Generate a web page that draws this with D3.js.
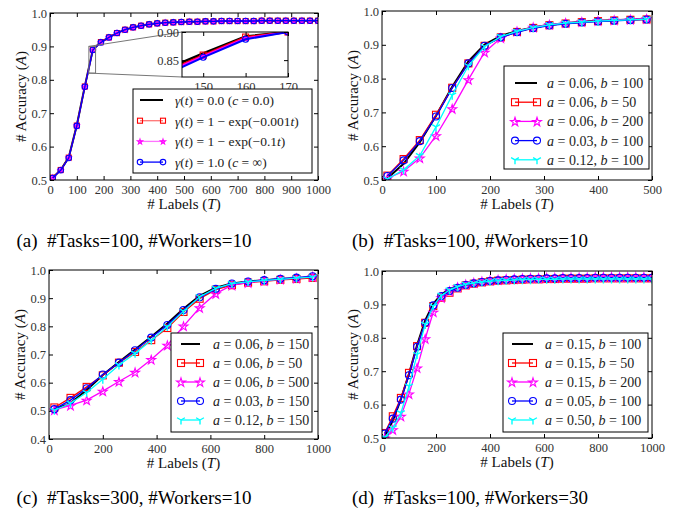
<!DOCTYPE html>
<html>
<head>
<meta charset="utf-8">
<script src="https://cdn.jsdelivr.net/npm/d3@7/dist/d3.min.js"></script>
<style>
  body { margin: 0; background: #fff; }
  svg text { font-family: "Liberation Serif", "Times New Roman", Times, serif !important; }
</style>
</head>
<body>
<svg id="fig" width="682" height="515" font-family="Liberation Serif"></svg>
<script>
// ---- data ----
const labelsA = [10, 40, 70, 100, 130, 160, 190, 220, 250, 280, 310, 340, 370, 400, 430, 460, 490,
    520, 550, 580, 610, 640, 670, 700, 730, 760, 790, 820, 850, 880, 910, 940, 970, 1000];
const accA_zero = [0.507, 0.530, 0.568, 0.664, 0.781, 0.891, 0.913, 0.927, 0.940, 0.950, 0.957, 0.962, 0.966, 0.969, 0.971, 0.972, 0.973,
    0.974, 0.974, 0.975, 0.975, 0.976, 0.976, 0.976, 0.976, 0.977, 0.977, 0.977, 0.977, 0.977, 0.977, 0.977, 0.977, 0.977];
const accA_exp001 = [0.507, 0.530, 0.567, 0.663, 0.780, 0.890, 0.913, 0.927, 0.940, 0.950, 0.957, 0.962, 0.966, 0.969, 0.971, 0.972, 0.973,
    0.974, 0.974, 0.975, 0.975, 0.976, 0.976, 0.976, 0.976, 0.976, 0.977, 0.977, 0.977, 0.977, 0.977, 0.977, 0.977, 0.977];
const accA_exp01 = [0.507, 0.530, 0.567, 0.663, 0.780, 0.890, 0.913, 0.927, 0.940, 0.950, 0.957, 0.962, 0.966, 0.969, 0.971, 0.972, 0.973,
    0.974, 0.974, 0.975, 0.975, 0.976, 0.976, 0.976, 0.976, 0.976, 0.977, 0.977, 0.977, 0.977, 0.977, 0.977, 0.977, 0.977];
const accA_inf = [0.506, 0.529, 0.566, 0.662, 0.779, 0.889, 0.912, 0.927, 0.940, 0.950, 0.957, 0.962, 0.966, 0.969, 0.971, 0.972, 0.973,
    0.974, 0.974, 0.975, 0.975, 0.976, 0.976, 0.976, 0.976, 0.976, 0.977, 0.977, 0.977, 0.977, 0.977, 0.977, 0.977, 0.977];

// zoomed inset of panel (a)
const insetLabels = [140, 150, 160, 170];
const insetZero = [0.830, 0.862, 0.892, 0.900];
const insetExp001 = [0.826, 0.859, 0.891, 0.900];
const insetExp01 = [0.824, 0.857, 0.889, 0.900];
const insetInf = [0.820, 0.855, 0.887, 0.900];

const labelsB = [10, 40, 70, 100, 130, 160, 190, 220, 250, 280, 310, 340, 370, 400, 430, 460, 490];
const accB_a006_b100 = [0.505, 0.548, 0.612, 0.690, 0.776, 0.851, 0.901, 0.926, 0.941, 0.951, 0.959, 0.964, 0.968, 0.971, 0.973, 0.975, 0.976];
const accB_a006_b50 = [0.513, 0.562, 0.618, 0.693, 0.773, 0.845, 0.897, 0.922, 0.938, 0.950, 0.958, 0.963, 0.967, 0.970, 0.972, 0.974, 0.975];
const accB_a006_b200 = [0.505, 0.526, 0.565, 0.631, 0.711, 0.797, 0.878, 0.920, 0.940, 0.952, 0.960, 0.965, 0.968, 0.971, 0.973, 0.975, 0.977];
const accB_a003_b100 = [0.512, 0.558, 0.615, 0.688, 0.772, 0.845, 0.897, 0.922, 0.937, 0.949, 0.957, 0.962, 0.966, 0.969, 0.971, 0.973, 0.975];
const accB_a012_b100 = [0.503, 0.530, 0.572, 0.657, 0.751, 0.838, 0.895, 0.924, 0.940, 0.951, 0.959, 0.964, 0.967, 0.970, 0.972, 0.974, 0.976];

const labelsC = [20, 80, 140, 200, 260, 320, 380, 440, 500, 560, 620, 680, 740, 800, 860, 920, 980];
const accC_a006_b150 = [0.505, 0.527, 0.574, 0.627, 0.673, 0.718, 0.763, 0.810, 0.862, 0.908, 0.937, 0.952, 0.959, 0.964, 0.968, 0.971, 0.974];
const accC_a006_b50 = [0.512, 0.546, 0.585, 0.626, 0.671, 0.709, 0.751, 0.794, 0.851, 0.898, 0.930, 0.946, 0.955, 0.960, 0.965, 0.968, 0.972];
const accC_a006_b500 = [0.503, 0.519, 0.538, 0.570, 0.604, 0.637, 0.682, 0.733, 0.801, 0.866, 0.916, 0.946, 0.955, 0.962, 0.967, 0.971, 0.976];
const accC_a003_b150 = [0.506, 0.538, 0.580, 0.629, 0.671, 0.715, 0.760, 0.805, 0.858, 0.903, 0.933, 0.952, 0.959, 0.964, 0.969, 0.973, 0.978];
const accC_a012_b150 = [0.502, 0.527, 0.565, 0.612, 0.663, 0.704, 0.751, 0.799, 0.854, 0.905, 0.935, 0.952, 0.958, 0.963, 0.967, 0.971, 0.975];

const labelsD = [10, 40, 70, 100, 130, 160, 190, 220, 250, 280, 310, 340, 370, 400, 430, 460, 490,
    520, 550, 580, 610, 640, 670, 700, 730, 760, 790, 820, 850, 880, 910, 940, 970, 1000];
const accD_a015_b100 = [0.505, 0.552, 0.616, 0.692, 0.778, 0.852, 0.902, 0.930, 0.945, 0.955, 0.962, 0.966, 0.969, 0.971, 0.973, 0.974, 0.975,
    0.976, 0.977, 0.977, 0.978, 0.978, 0.978, 0.979, 0.979, 0.979, 0.979, 0.980, 0.980, 0.980, 0.980, 0.980, 0.980, 0.980];
const accD_a015_b50 = [0.515, 0.565, 0.620, 0.695, 0.775, 0.845, 0.895, 0.920, 0.935, 0.948, 0.957, 0.962, 0.966, 0.969, 0.971, 0.972, 0.973,
    0.974, 0.975, 0.975, 0.976, 0.976, 0.977, 0.977, 0.977, 0.977, 0.978, 0.978, 0.978, 0.978, 0.978, 0.978, 0.978, 0.978];
const accD_a015_b200 = [0.500, 0.525, 0.565, 0.632, 0.710, 0.797, 0.877, 0.920, 0.940, 0.952, 0.960, 0.965, 0.969, 0.972, 0.974, 0.976, 0.977,
    0.978, 0.979, 0.979, 0.980, 0.980, 0.981, 0.981, 0.981, 0.981, 0.982, 0.982, 0.982, 0.982, 0.982, 0.982, 0.982, 0.982];
const accD_a005_b100 = [0.513, 0.558, 0.615, 0.688, 0.773, 0.845, 0.897, 0.925, 0.940, 0.950, 0.958, 0.963, 0.967, 0.970, 0.972, 0.974, 0.975,
    0.976, 0.977, 0.977, 0.978, 0.978, 0.979, 0.979, 0.979, 0.979, 0.980, 0.980, 0.980, 0.980, 0.980, 0.980, 0.980, 0.980];
const accD_a050_b100 = [0.502, 0.530, 0.575, 0.655, 0.750, 0.840, 0.895, 0.927, 0.943, 0.953, 0.960, 0.964, 0.967, 0.969, 0.971, 0.972, 0.973,
    0.974, 0.974, 0.975, 0.975, 0.975, 0.976, 0.976, 0.976, 0.976, 0.976, 0.976, 0.976, 0.976, 0.976, 0.976, 0.976, 0.976];

const legendA = ["γ(t) = 0.0 (c = 0.0)", "γ(t) = 1 − exp(−0.001t)", "γ(t) = 1 − exp(−0.1t)", "γ(t) = 1.0 (c = ∞)"];
const legendB = ["a = 0.06, b = 100", "a = 0.06, b = 50", "a = 0.06, b = 200", "a = 0.03, b = 100", "a = 0.12, b = 100"];
const legendC = ["a = 0.06, b = 150", "a = 0.06, b = 50", "a = 0.06, b = 500", "a = 0.03, b = 150", "a = 0.12, b = 150"];
const legendD = ["a = 0.15, b = 100", "a = 0.15, b = 50", "a = 0.15, b = 200", "a = 0.05, b = 100", "a = 0.50, b = 100"];

const captions = ["(a)  #Tasks=100, #Workers=10", "(b)  #Tasks=100, #Workers=10",
    "(c)  #Tasks=300, #Workers=10", "(d)  #Tasks=100, #Workers=30"];

// ---- styles ----
const SERIF = "'Liberation Serif', 'Times New Roman', serif";
const sBlack = { color: "#000", marker: null, width: 2 };
const sRed = { color: "#ff0000", marker: "square", width: 1.3 };
const sMag = { color: "#ff00ff", marker: "star", width: 1.3 };
const sBlue = { color: "#0000ff", marker: "circle", width: 1.3 };
const sCyan = { color: "#00ffff", marker: "tri", width: 1.3 };

const svg = d3.select("#fig");

function drawMarker(g, type, x, y, color, sz) {
    if (type === "square") {
        g.append("rect").attr("x", x - sz / 2).attr("y", y - sz / 2)
            .attr("width", sz).attr("height", sz)
            .attr("fill", "none").attr("stroke", color).attr("stroke-width", 1.1);
    } else if (type === "circle") {
        g.append("circle").attr("cx", x).attr("cy", y).attr("r", sz / 2)
            .attr("fill", "none").attr("stroke", color).attr("stroke-width", 1.1);
    } else if (type === "star") {
        g.append("path").attr("d", d3.symbol(d3.symbolStar, sz * sz * 0.3)())
            .attr("transform", `translate(${x},${y + sz * 0.06})`)
            .attr("fill", "none").attr("stroke", color).attr("stroke-width", 1.1);
    } else if (type === "tri") {
        const r = sz / 2;
        g.append("path")
            .attr("d", `M${x},${y}L${x},${y + r}M${x},${y}L${x - r * 0.87},${y - r * 0.5}M${x},${y}L${x + r * 0.87},${y - r * 0.5}`)
            .attr("fill", "none").attr("stroke", color).attr("stroke-width", 1.4);
    }
}

// rich text: single-letter variables in italics
function mathText(sel, str) {
    for (const ch of str) {
        const t = sel.append("tspan").text(ch);
        if ("abctγ".includes(ch)) t.attr("font-style", "italic");
    }
}

let clipId = 0;

function styleTicks(ax) {
    ax.attr("font-family", SERIF);
    ax.selectAll("text").attr("fill", "#333").style("font-size", "12.5px").style("font-family", SERIF);
}

function drawPanel(p) {
    const x = d3.scaleLinear().domain(p.xDomain).range([p.left, p.right]);
    const y = d3.scaleLinear().domain(p.yDomain).range([p.bottom, p.top]);
    const g = svg.append("g");

    // ticks on all four sides, pointing in
    g.append("g").attr("transform", `translate(0,${p.bottom})`)
        .call(d3.axisBottom(x).tickValues(p.xTicks).tickSizeInner(-4).tickSizeOuter(0).tickPadding(5).tickFormat(d3.format("d")))
        .call(styleTicks);
    g.append("g").attr("transform", `translate(0,${p.top})`)
        .call(d3.axisTop(x).tickValues(p.xTicks).tickSizeInner(-4).tickSizeOuter(0).tickFormat(""));
    g.append("g").attr("transform", `translate(${p.left},0)`)
        .call(d3.axisLeft(y).tickValues(p.yTicks).tickSizeInner(-4).tickSizeOuter(0).tickPadding(3).tickFormat(d3.format(".1f")))
        .call(styleTicks);
    g.append("g").attr("transform", `translate(${p.right},0)`)
        .call(d3.axisRight(y).tickValues(p.yTicks).tickSizeInner(-4).tickSizeOuter(0).tickFormat(""));
    g.selectAll(".domain").remove();
    g.selectAll(".tick line").attr("stroke", "#000");

    const cid = "clip" + (clipId++);
    svg.append("clipPath").attr("id", cid).append("rect")
        .attr("x", p.left).attr("y", p.top).attr("width", p.right - p.left).attr("height", p.bottom - p.top);
    const plot = g.append("g").attr("clip-path", `url(#${cid})`);

    const line = d3.line().x(d => x(d[0])).y(d => y(d[1]));
    p.series.forEach(s => {
        const pts = p.xs.map((v, i) => [v, s.ys[i]]);
        plot.append("path").attr("d", line(pts)).attr("fill", "none")
            .attr("stroke", s.style.color).attr("stroke-width", s.style.width)
            .attr("stroke-opacity", s.lineOpacity || 1);
        if (s.style.marker) {
            pts.forEach(d => drawMarker(plot, s.style.marker, x(d[0]), y(d[1]), s.style.color, p.markerSize[s.style.marker]));
        }
    });

    g.append("rect").attr("x", p.left).attr("y", p.top)
        .attr("width", p.right - p.left).attr("height", p.bottom - p.top)
        .attr("fill", "none").attr("stroke", "#000").attr("stroke-width", 1);

    // axis labels
    const xl = g.append("text").attr("x", (p.left + p.right) / 2).attr("y", p.bottom + 29)
        .attr("text-anchor", "middle").style("font-size", "15px").style("font-family", SERIF).attr("fill", "#111");
    xl.append("tspan").text("# Labels (");
    xl.append("tspan").attr("font-style", "italic").text("T");
    xl.append("tspan").text(")");
    const yl = g.append("text")
        .attr("transform", `translate(${p.left - 24},${(p.top + p.bottom) / 2}) rotate(-90)`)
        .attr("text-anchor", "middle").style("font-size", "15px").style("font-family", SERIF).attr("fill", "#111");
    yl.append("tspan").text("# Accuracy (");
    yl.append("tspan").attr("font-style", "italic").text("A");
    yl.append("tspan").text(")");

    if (p.inset) p.inset(g, x, y);

    // legend
    const L = p.legend;
    const lg = g.append("g");
    lg.append("rect").attr("x", L.x0).attr("y", L.y0).attr("width", L.x1 - L.x0).attr("height", L.y1 - L.y0)
        .attr("fill", "#fff").attr("stroke", "#000").attr("stroke-width", 1);
    p.series.forEach((s, i) => {
        const ry = L.firstRow + i * L.step;
        lg.append("line").attr("x1", L.sx0).attr("x2", L.sx1).attr("y1", ry).attr("y2", ry)
            .attr("stroke", s.style.color).attr("stroke-width", s.style.width)
            .attr("stroke-opacity", s.lineOpacity || 1);
        if (s.style.marker) {
            drawMarker(lg, s.style.marker, L.sx0, ry, s.style.color, p.markerSize[s.style.marker]);
            drawMarker(lg, s.style.marker, L.sx1, ry, s.style.color, p.markerSize[s.style.marker]);
        }
        const t = lg.append("text").attr("x", L.tx).attr("y", ry + 5)
            .style("font-size", L.fontSize + "px").style("font-family", SERIF).attr("fill", "#222");
        mathText(t, L.labels[i]);
    });

    svg.append("text").attr("x", p.capX).attr("y", p.capY).attr("text-anchor", "middle")
        .style("font-size", "19px").style("font-family", SERIF).style("white-space", "pre").attr("fill", "#000")
        .text(p.caption);
}

// inset for panel (a)
function insetA(g, x, y) {
    const box = { left: 182, right: 288, top: 32, bottom: 77 };
    const ix = d3.scaleLinear().domain([145, 170]).range([box.left, box.right]);
    const iy = d3.scaleLinear().domain([0.82, 0.90]).range([box.bottom, box.top]);

    // marked region and connector lines
    const mx0 = x(145), mx1 = x(170), my0 = y(0.90), my1 = y(0.82);
    g.append("rect").attr("x", mx0).attr("y", my0).attr("width", mx1 - mx0).attr("height", my1 - my0)
        .attr("fill", "none").attr("stroke", "#777").attr("stroke-width", 1);
    g.append("line").attr("x1", mx0).attr("y1", my0).attr("x2", box.left).attr("y2", box.top)
        .attr("stroke", "#777").attr("stroke-width", 1);
    g.append("line").attr("x1", mx0).attr("y1", my1).attr("x2", box.left).attr("y2", box.bottom)
        .attr("stroke", "#777").attr("stroke-width", 1);

    const ig = g.append("g");
    ig.append("rect").attr("x", box.left).attr("y", box.top)
        .attr("width", box.right - box.left).attr("height", box.bottom - box.top).attr("fill", "#fff");

    svg.append("clipPath").attr("id", "clipInset").append("rect")
        .attr("x", box.left).attr("y", box.top).attr("width", box.right - box.left).attr("height", box.bottom - box.top);
    const plot = ig.append("g").attr("clip-path", "url(#clipInset)");
    const line = d3.line().x(d => ix(d[0])).y(d => iy(d[1]));
    const inset = [
        { ys: insetZero, style: sBlack, w: 2.5 },
        { ys: insetExp001, style: sRed, w: 2 },
        { ys: insetExp01, style: sMag, w: 2 },
        { ys: insetInf, style: sBlue, w: 2 }
    ];
    inset.forEach(s => {
        const pts = insetLabels.map((v, i) => [v, s.ys[i]]);
        plot.append("path").attr("d", line(pts)).attr("fill", "none")
            .attr("stroke", s.style.color).attr("stroke-width", s.w);
        if (s.style.marker) pts.forEach(d => drawMarker(plot, s.style.marker, ix(d[0]), iy(d[1]), s.style.color,
            { square: 6, circle: 6, star: 5, tri: 7 }[s.style.marker]));
    });

    ig.append("g").attr("transform", `translate(0,${box.bottom})`)
        .call(d3.axisBottom(ix).tickValues([150, 160, 170]).tickSizeInner(-4).tickSizeOuter(0).tickPadding(5))
        .call(styleTicks);
    ig.append("g").attr("transform", `translate(0,${box.top})`)
        .call(d3.axisTop(ix).tickValues([150, 160, 170]).tickSizeInner(-4).tickSizeOuter(0).tickFormat(""));
    ig.append("g").attr("transform", `translate(${box.left},0)`)
        .call(d3.axisLeft(iy).tickValues([0.85, 0.90]).tickSizeInner(-4).tickSizeOuter(0).tickPadding(3).tickFormat(d3.format(".2f")))
        .call(styleTicks);
    ig.append("g").attr("transform", `translate(${box.right},0)`)
        .call(d3.axisRight(iy).tickValues([0.85, 0.90]).tickSizeInner(-4).tickSizeOuter(0).tickFormat(""));
    ig.selectAll(".domain").remove();
    ig.selectAll(".tick line").attr("stroke", "#000");
    ig.append("rect").attr("x", box.left).attr("y", box.top)
        .attr("width", box.right - box.left).attr("height", box.bottom - box.top)
        .attr("fill", "none").attr("stroke", "#000").attr("stroke-width", 1);
}

const bigMarkers = { square: 7, circle: 7, star: 9, tri: 9 };
const smallMarkers = { square: 5, circle: 5.5, star: 5, tri: 7 };

drawPanel({
    left: 50, right: 318, top: 13, bottom: 180,
    xDomain: [0, 1000], yDomain: [0.5, 1.0],
    xTicks: d3.range(0, 1001, 100), yTicks: [0.5, 0.6, 0.7, 0.8, 0.9, 1.0],
    xs: labelsA, markerSize: smallMarkers,
    series: [
        { ys: accA_zero, style: sBlack },
        { ys: accA_exp001, style: sRed, lineOpacity: 0.55 },
        { ys: accA_exp01, style: sMag, lineOpacity: 0.55 },
        { ys: accA_inf, style: sBlue }
    ],
    inset: insetA,
    legend: { x0: 133, x1: 312, y0: 89, y1: 173, firstRow: 100, step: 20.7, sx0: 140, sx1: 163, tx: 175, fontSize: 13.5, labels: legendA },
    caption: captions[0], capX: 134, capY: 247
});

drawPanel({
    left: 382, right: 652, top: 11, bottom: 180,
    xDomain: [0, 500], yDomain: [0.5, 1.0],
    xTicks: d3.range(0, 501, 100), yTicks: [0.5, 0.6, 0.7, 0.8, 0.9, 1.0],
    xs: labelsB, markerSize: bigMarkers,
    series: [
        { ys: accB_a006_b100, style: sBlack },
        { ys: accB_a006_b50, style: sRed },
        { ys: accB_a006_b200, style: sMag },
        { ys: accB_a003_b100, style: sBlue },
        { ys: accB_a012_b100, style: sCyan }
    ],
    legend: { x0: 504, x1: 649, y0: 66, y1: 169, firstRow: 83, step: 19.2, sx0: 515, sx1: 537, tx: 547, fontSize: 14, labels: legendB },
    caption: captions[1], capX: 470, capY: 247
});

drawPanel({
    left: 49, right: 318, top: 270, bottom: 439,
    xDomain: [0, 1000], yDomain: [0.4, 1.0],
    xTicks: d3.range(0, 1001, 200), yTicks: [0.4, 0.5, 0.6, 0.7, 0.8, 0.9, 1.0],
    xs: labelsC, markerSize: bigMarkers,
    series: [
        { ys: accC_a006_b150, style: sBlack },
        { ys: accC_a006_b50, style: sRed },
        { ys: accC_a006_b500, style: sMag },
        { ys: accC_a003_b150, style: sBlue },
        { ys: accC_a012_b150, style: sCyan }
    ],
    legend: { x0: 171, x1: 312, y0: 333, y1: 432, firstRow: 344, step: 19, sx0: 181, sx1: 200, tx: 213, fontSize: 14, labels: legendC },
    caption: captions[2], capX: 134, capY: 504
});

drawPanel({
    left: 382, right: 652, top: 271, bottom: 438,
    xDomain: [0, 1000], yDomain: [0.5, 1.0],
    xTicks: d3.range(0, 1001, 200), yTicks: [0.5, 0.6, 0.7, 0.8, 0.9, 1.0],
    xs: labelsD, markerSize: bigMarkers,
    series: [
        { ys: accD_a015_b100, style: sBlack },
        { ys: accD_a015_b50, style: sRed },
        { ys: accD_a015_b200, style: sMag },
        { ys: accD_a005_b100, style: sBlue },
        { ys: accD_a050_b100, style: sCyan }
    ],
    legend: { x0: 503, x1: 648, y0: 333, y1: 432, firstRow: 344, step: 19, sx0: 512, sx1: 533, tx: 545, fontSize: 14, labels: legendD },
    caption: captions[3], capX: 470, capY: 504
});
</script>
</body>
</html>
